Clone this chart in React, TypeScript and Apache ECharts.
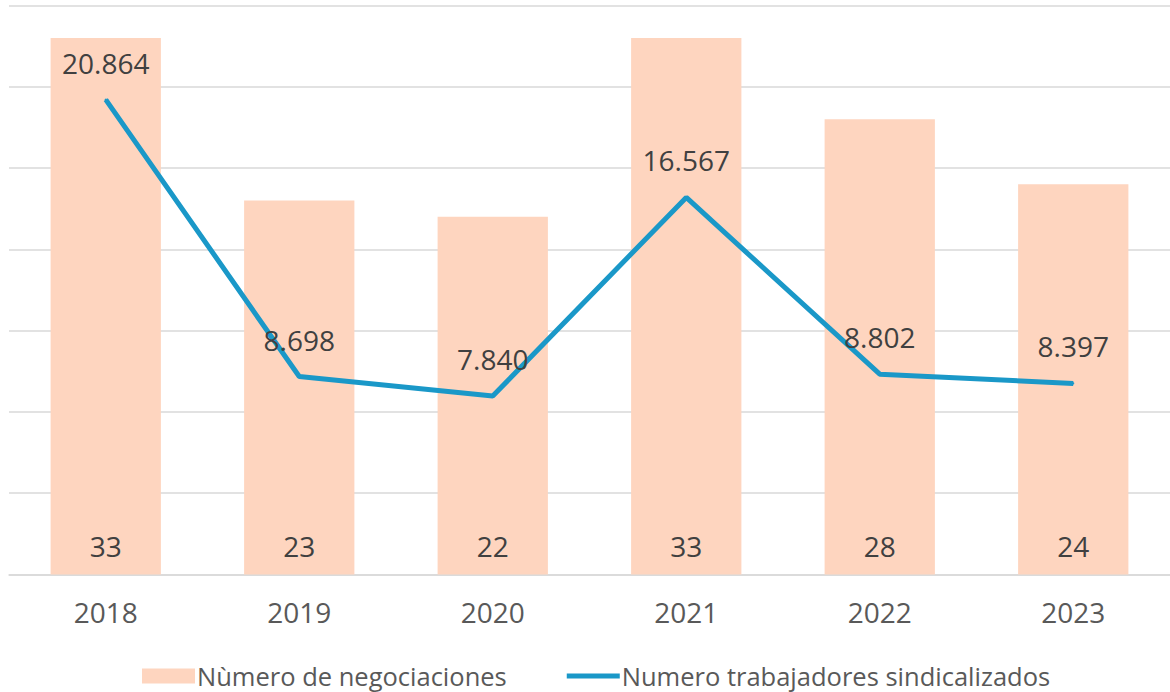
import React, { useEffect, useRef } from "react";
import * as echarts from "echarts";

const categories = ["2018", "2019", "2020", "2021", "2022", "2023"];
const negociaciones = [33, 23, 22, 33, 28, 24];
const trabajadores = [20864, 8698, 7840, 16567, 8802, 8397];
const barName = "Nùmero de negociaciones";
const lineName = "Numero trabajadores sindicalizados";

const FONT = "Open Sans";
const LINE_COLOR = "#1A98C8";

function fmt(v: number): string {
  return String(v).replace(/\B(?=(\d{3})+(?!\d))/g, ".");
}

export default function App() {
  const ref = useRef<HTMLDivElement>(null);
  useEffect(() => {
    document.body.style.margin = "0";
    if (!ref.current) return;
    const chart = echarts.init(ref.current, null, { renderer: "svg" });
    chart.setOption({
      animation: false,
      textStyle: { fontFamily: FONT },
      grid: { left: 9, right: 0, top: 5.5, bottom: 117.5, containLabel: false },
      legend: {
        left: 137,
        top: 658,
        itemWidth: 53,
        itemHeight: 15,
        itemGap: 60,
        textStyle: { color: "#595959", fontSize: 25.5, fontFamily: FONT, padding: [0, 0, 0, -3] },
        data: [
          { name: barName, icon: "rect" },
          {
            name: lineName,
            icon: "path://M0,0L0.01,0M0,5H55V10H0ZM0,15L0.01,15",
            itemStyle: { color: LINE_COLOR, opacity: 1 },
          },
        ],
      },
      xAxis: {
        type: "category",
        data: categories,
        axisLine: { lineStyle: { color: "#d9d9d9", width: 1.5 } },
        axisTick: { show: false },
        axisLabel: { color: "#595959", fontSize: 28, margin: 23, fontFamily: FONT },
      },
      yAxis: [
        {
          type: "value",
          min: 0,
          max: 35,
          interval: 5,
          axisLabel: { show: false },
          axisLine: { show: false },
          axisTick: { show: false },
          splitLine: { lineStyle: { color: "#d9d9d9", width: 1.5 } },
        },
        {
          type: "value",
          min: 0,
          max: 25000,
          axisLabel: { show: false },
          axisLine: { show: false },
          axisTick: { show: false },
          splitLine: { show: false },
        },
      ],
      series: [
        {
          name: barName,
          type: "bar",
          data: negociaciones,
          barWidth: "57%",
          itemStyle: { color: "#FED5BF" },
          label: {
            show: true,
            position: "insideBottom",
            distance: 15,
            color: "#404040",
            fontSize: 28,
            fontFamily: FONT,
          },
        },
        {
          name: lineName,
          type: "line",
          yAxisIndex: 1,
          data: trabajadores,
          symbol: "circle",
          symbolSize: 2,
          showSymbol: true,
          lineStyle: { color: LINE_COLOR, width: 5 },
          itemStyle: { color: LINE_COLOR },
          label: {
            show: true,
            position: "top",
            distance: 22,
            color: "#404040",
            fontSize: 28,
            fontFamily: FONT,
            formatter: (p: any) => fmt(p.value),
          },
        },
      ],
    });
    return () => chart.dispose();
  }, []);
  return <div ref={ref} style={{ width: 1170, height: 692 }} />;
}
